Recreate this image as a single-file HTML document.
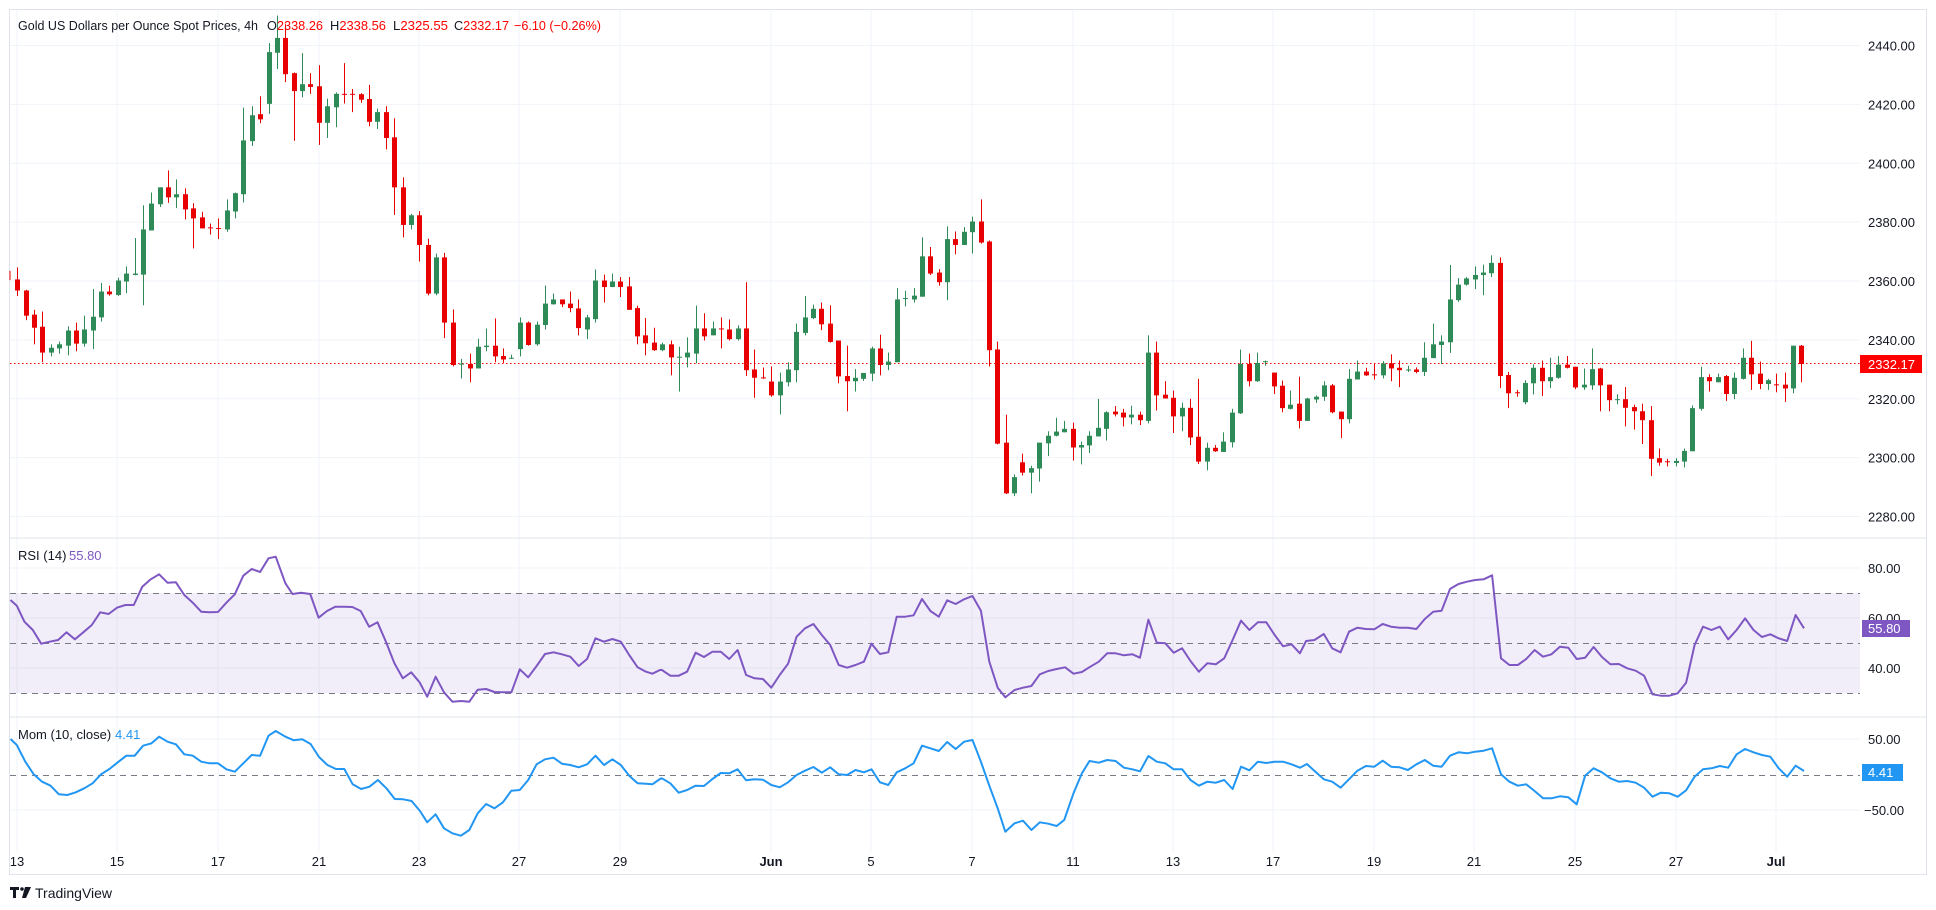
<!DOCTYPE html>
<html><head><meta charset="utf-8">
<style>
html,body{margin:0;padding:0;background:#fff;}
body{width:1936px;height:910px;overflow:hidden;font-family:"Liberation Sans",sans-serif;}
svg{position:absolute;left:0;top:0;}
</style></head>
<body>
<svg id="s" width="1936" height="910" viewBox="0 0 1936 910" xmlns="http://www.w3.org/2000/svg" font-family="Liberation Sans, sans-serif">
<rect x="9.5" y="9.5" width="1917" height="865" fill="#fff" stroke="#e0e3eb"/>
<g id="grid"></g>
<rect x="10" y="593" width="1850" height="100" fill="#7e57c2" fill-opacity="0.1"/>
<line x1="10" y1="538" x2="1927" y2="538" stroke="#e0e3eb"/>
<line x1="10" y1="717" x2="1927" y2="717" stroke="#e0e3eb"/>
<g stroke="#787b86" stroke-dasharray="6,5" stroke-width="1">
<line x1="10" y1="593.5" x2="1860" y2="593.5"/>
<line x1="10" y1="643.5" x2="1860" y2="643.5"/>
<line x1="10" y1="693.5" x2="1860" y2="693.5"/>
<line x1="10" y1="775.5" x2="1860" y2="775.5"/>
</g>
<line x1="10" y1="363.5" x2="1860" y2="363.5" stroke="#f00" stroke-dasharray="1.5,2.5"/>
<g id="candles"></g>
<polyline id="rsi" fill="none" stroke="#7e57c2" stroke-width="2" stroke-linejoin="round"/>
<polyline id="mom" fill="none" stroke="#2196f3" stroke-width="2" stroke-linejoin="round"/>
<g font-size="13" fill="#131722">
<text x="18" y="30" textLength="240" lengthAdjust="spacingAndGlyphs">Gold US Dollars per Ounce Spot Prices, 4h</text>
<text x="267" y="30" textLength="56" lengthAdjust="spacingAndGlyphs">O<tspan fill="#f00">2338.26</tspan></text>
<text x="330" y="30" textLength="56" lengthAdjust="spacingAndGlyphs">H<tspan fill="#f00">2338.56</tspan></text>
<text x="393" y="30" textLength="55" lengthAdjust="spacingAndGlyphs">L<tspan fill="#f00">2325.55</tspan></text>
<text x="454" y="30" textLength="55" lengthAdjust="spacingAndGlyphs">C<tspan fill="#f00">2332.17</tspan></text>
<text x="514" y="30" fill="#f00" textLength="87" lengthAdjust="spacingAndGlyphs">−6.10 (−0.26%)</text>
<text x="18" y="560">RSI (14)</text>
<text x="69" y="560" fill="#7e57c2">55.80</text>
<text x="18" y="739">Mom (10, close)</text>
<text x="115" y="739" fill="#2196f3">4.41</text>
</g>
<g id="axis" font-size="13" fill="#131722"></g>
<rect x="1860" y="355" width="62" height="18" fill="#f00"/>
<text x="1868" y="369" font-size="13" fill="#fff">2332.17</text>
<rect x="1862" y="620" width="48" height="17" fill="#7e57c2"/>
<text x="1868" y="633" font-size="13" fill="#fff">55.80</text>
<rect x="1862" y="764" width="41" height="17" fill="#2196f3"/>
<text x="1868" y="777" font-size="13" fill="#fff">4.41</text>
<g fill="#131722">
<path d="M10 887h9v3h-3v8h-3v-8h-3z"/>
<circle cx="22" cy="889" r="1.8"/>
<path d="M25 887h6l-5 11h-4z"/>
</g>
<text x="35" y="898" font-size="14" fill="#131722">TradingView</text>
</svg>
<script>
var NS="http://www.w3.org/2000/svg";
function el(p,t,a){var e=document.createElementNS(NS,t);for(var k in a)e.setAttribute(k,a[k]);p.appendChild(e);return e;}
var grid=document.getElementById('grid'),axis=document.getElementById('axis');
for(var p=2280;p<=2440;p+=20){var y=45.5+(2440-p)*2.944;el(grid,'line',{x1:10,x2:1860,y1:y,y2:y,stroke:'#f0f3fa'});
 var t=el(axis,'text',{x:1868,y:y+5});t.textContent=p.toFixed(2);}
[[568,'80.00'],[618,'60.00'],[668,'40.00']].forEach(function(a){el(grid,'line',{x1:10,x2:1860,y1:a[0],y2:a[0],stroke:'#f0f3fa'});var t=el(axis,'text',{x:1868,y:a[0]+5});t.textContent=a[1];});
[[739,'50.00',1868],[810,'−50.00',1864]].forEach(function(a){el(grid,'line',{x1:10,x2:1860,y1:a[0],y2:a[0],stroke:'#f0f3fa'});var t=el(axis,'text',{x:a[2],y:a[0]+5});t.textContent=a[1];});
var labs=[[17,'13'],[117,'15'],[218,'17'],[319,'21'],[419,'23'],[519,'27'],[620,'29'],[771,'Jun'],[871,'5'],[972,'7'],[1073,'11'],[1173,'13'],[1273,'17'],[1374,'19'],[1474,'21'],[1575,'25'],[1676,'27'],[1776,'Jul']];
labs.forEach(function(l){el(grid,'line',{x1:l[0],x2:l[0],y1:10,y2:852,stroke:'#f0f3fa'});var t=el(axis,'text',{x:l[0],y:866,'text-anchor':'middle'});if(l[1]=='Jun'||l[1]=='Jul')t.setAttribute('font-weight','bold');t.textContent=l[1];});
var D="r810 842 775 858|r842 915 840 928|r912 950 898 998|r947 1022 903 1050|g1008 1022 998 1033|g998 1010 990 1025|g958 1002 946 1030|r958 996 935 1018|g955 996 915 1005|g918 958 838 1012|g845 920 820 932|r845 853 828 857|g813 855 805 858|g793 816 772 850|g793 797 690 798|g665 796 595 885|g590 668 558 668|g543 592 543 600|r543 572 494 588|g563 572 520 603|r563 607 546 636|r604 633 589 720|r630 662 614 662|r659 661 648 680|r661 663 633 693|g610 665 578 672|g560 613 558 633|g407 563 312 587|g334 409 308 423|r331 346 279 357|g151 301 125 330|g110 153 45 200|r110 215 70 238|r212 264 210 408|g244 264 154 282|r244 252 212 272|r250 356 189 420|g308 356 286 400|g272 311 268 369|r272 274 183 300|r272 274 258 325|r273 289 270 298|r287 353 246 366|g325 353 315 374|r325 400 308 433|r398 543 343 623|r543 652 514 688|g624 652 620 665|r624 710 612 758|r710 851 692 856|g746 851 735 856|r746 935 733 980|r935 1058 897 1062|g1054 1056 1040 1097|r1055 1068 1025 1108|g1005 1068 982 1068|g1002 1006 952 1018|r1002 1033 923 1050|r1032 1042 1010 1052|g1037 1039 1028 1040|g935 1012 920 1033|r935 1000 932 1002|g941 998 932 1002|g880 942 828 955|g868 882 851 883|r868 882 868 890|r880 893 845 905|r894 951 868 972|g920 955 913 983|g813 925 781 935|r813 832 796 877|g816 832 793 832|r816 832 803 861|r830 898 803 898|r893 975 886 998|r972 995 922 1030|r993 1015 950 1017|g998 1015 993 1018|r998 1036 987 1088|g1034 1036 1005 1135|g1022 1036 978 1065|g952 1025 886 1053|r952 975 908 987|g952 972 932 972|r952 954 920 1010|r955 983 926 987|g952 983 943 987|r952 1073 818 1090|r1071 1095 1013 1153|r1094 1096 1065 1098|r1106 1146 1062 1150|g1106 1146 1080 1201|g1071 1108 1050 1120|g962 1073 938 1108|g920 965 858 972|g895 922 883 925|r895 940 877 957|r938 991 885 993|r987 1091 987 1111|r1090 1105 1002 1192|g1095 1105 1070 1135|g1081 1098 1081 1104|g1010 1083 1005 1105|r1010 1058 970 1088|g1048 1058 1022 1073|g868 1050 835 1050|g864 866 843 888|g857 868 835 877|g743 860 688 860|r743 793 716 797|r790 818 780 828|g693 818 656 870|r693 710 671 737|g672 710 658 710|g642 673 628 735|r642 703 578 706|r700 1015 697 1062|r1013 1286 990 1288|r1283 1430 1202 1432|g1383 1430 1375 1438|r1340 1370 1315 1378|g1357 1370 1350 1430|g1283 1358 1283 1396|g1263 1285 1250 1322|g1251 1263 1211 1265|g1243 1253 1220 1253|r1243 1297 1225 1335|g1290 1297 1280 1346|g1263 1291 1250 1313|g1240 1265 1156 1265|g1195 1243 1192 1277|r1193 1201 1177 1207|r1196 1210 1185 1236|g1202 1210 1176 1230|r1202 1218 1193 1232|g1022 1220 972 1227|r1022 1146 990 1190|r1144 1155 1105 1155|r1153 1207 1132 1255|g1182 1207 1167 1250|r1182 1268 1156 1290|r1266 1338 1098 1345|g1298 1338 1283 1363|r1298 1308 1290 1310|g1280 1310 1253 1310|g1196 1282 1185 1297|g1055 1198 1013 1200|r1055 1105 1025 1120|g1052 1105 1022 1107|g1047 1049 1045 1060|r1080 1120 1080 1142|r1118 1183 1103 1195|g1173 1185 1132 1187|r1170 1220 1092 1242|g1155 1220 1153 1220|g1150 1158 1146 1168|g1117 1150 1105 1162|r1117 1195 1113 1198|r1193 1215 1193 1270|g1098 1215 1070 1227|g1077 1100 1045 1100|r1077 1088 1066 1090|r1085 1087 1055 1100|g1053 1088 1047 1097|r1053 1068 1027 1105|r1066 1073 1045 1122|g1071 1073 1060 1078|r1071 1078 1065 1082|g1037 1078 992 1090|g998 1038 938 1038|g990 1000 972 1055|g868 992 768 1023|g825 870 806 875|g807 825 803 828|g797 810 772 838|g790 797 767 856|g762 792 740 803|r762 1090 746 1125|r1087 1140 1078 1183|r1137 1139 1130 1150|g1110 1166 1102 1172|g1066 1111 1056 1143|r1066 1105 1045 1148|g1093 1105 1037 1125|g1057 1095 1032 1098|r1057 1066 1032 1068|r1063 1123 1063 1128|g1115 1123 1068 1130|g1070 1117 1010 1130|r1068 1117 1066 1192|r1115 1160 1115 1192|g1157 1159 1143 1172|r1157 1182 1122 1236|r1180 1192 1173 1245|r1192 1218 1170 1287|r1218 1330 1177 1380|r1328 1341 1300 1350|r1337 1339 1330 1352|g1336 1342 1328 1352|g1307 1338 1300 1355|g1183 1308 1175 1308|g1093 1185 1063 1190|r1093 1105 1085 1135|g1093 1108 1083 1108|r1090 1142 1087 1162|g1095 1142 1080 1157|g1037 1098 1010 1100|r1037 1085 988 1130|r1083 1113 1048 1128|g1102 1113 1098 1130|r1114 1116 1083 1137|r1115 1126 1080 1165|g1002 1126 1002 1140|r1002 1055 1000 1108";
var cg=document.getElementById('candles');var K=0.345;
el(cg,'line',{x1:10,x2:10,y1:785*K,y2:812*K,stroke:'#e80000'});
D.split('|').forEach(function(s,i){var c=s[0]=='g'?'#2e8b57':'#e80000';var v=s.slice(1).split(' ').map(Number);var x=Math.round(17.3+8.376*i);
 el(cg,'rect',{x:x,y:v[2]*K,width:1,height:Math.max(1,(v[3]-v[2])*K),fill:c});
 el(cg,'rect',{x:x-2,y:v[0]*K,width:5,height:Math.max(1,(v[1]-v[0])*K),fill:c});});
function pts(arr){var out=[],mx=-1;arr.forEach(function(seg){var x0=seg[0];seg[1].forEach(function(p){var x=x0+p[0]/2.376,y=535+p[1]/3;if(x>mx+0.5){out.push(x.toFixed(1)+','+y.toFixed(1));mx=x;}});});return out.join(' ');}
var R7=[[25,195],[40,212],[58,260],[78,285],[98,326],[118,320],[138,315],[158,292],[178,313],[198,292],[218,270],[238,232],[258,237],[278,218],[298,210],[318,210],[338,155],[358,133],[378,118],[398,143],[418,142],[438,180],[458,203],[478,230],[498,232],[518,231],[538,203],[558,178],[578,122],[598,102],[618,111],[638,70],[655,65],[678,145],[695,177],[715,173],[737,177],[757,248],[777,228],[797,215],[817,215],[837,216],[857,228],[877,275],[897,262],[917,320],[937,385],[957,430],[977,412],[997,442],[1015,485],[1035,425],[1055,472],[1075,500],[1095,498],[1115,500],[1135,464],[1155,462],[1175,471],[1195,472],[1215,472],[1235,403],[1255,427],[1275,393],[1295,357],[1315,352],[1335,358],[1355,365],[1375,393],[1395,372],[1415,310],[1435,320],[1455,312],[1475,320],[1495,360],[1515,397],[1535,410],[1550,416],[1568,405]];
var R8=[[0,400],[30,415],[52,405],[72,422],[92,422],[112,410],[132,353],[152,366],[172,350],[192,350],[212,372],[232,345],[252,420],[272,430],[292,432],[312,458],[332,420],[352,386],[372,305],[392,280],[412,267],[432,300],[452,330],[472,390],[492,398],[512,390],[532,380],[550,326],[570,357],[590,352],[610,245],[630,245],[650,241],[670,192],[690,228],[710,245],[730,196],[750,207],[770,193],[790,183],[810,227],[830,380],[850,458],[868,487],[890,465],[910,458],[930,453],[950,418],[970,408],[990,402],[1010,397],[1030,416],[1050,411],[1070,395],[1090,380],[1110,355],[1130,355],[1150,361],[1170,358],[1188,368],[1208,254],[1228,323],[1248,325],[1268,353],[1288,340],[1308,378],[1328,410],[1348,385],[1368,388],[1388,370],[1408,315],[1428,257],[1448,285],[1468,262],[1488,262],[1508,300],[1528,334],[1548,328],[1568,355]];
var R9=[[0,333],[20,330],[40,353],[62,318],[82,315],[104,297],[124,340],[144,352],[164,290],[184,278],[204,282],[224,283],[244,267],[264,275],[284,278],[304,278],[324,282],[344,252],[364,230],[384,227],[404,162],[424,147],[444,140],[464,135],[484,133],[504,121],[525,370],[545,390],[565,390],[585,372],[605,345],[625,365],[645,358],[665,335],[685,338],[705,372],[725,368],[745,336],[765,366],[785,388],[805,387],[825,400],[845,407],[865,422],[885,478],[905,482],[925,482],[945,475],[965,443],[985,330],[1005,275],[1025,285],[1045,275],[1065,313],[1085,285],[1105,250],[1125,285],[1145,306],[1165,298],[1185,310],[1205,318],[1225,240],[1245,280]];
var M7=[[25,612],[40,630],[60,680],[80,718],[100,740],[120,752],[140,778],[160,780],[180,772],[200,760],[220,745],[240,718],[260,702],[280,682],[300,662],[320,662],[340,632],[360,625],[378,605],[398,620],[418,628],[438,658],[458,662],[478,680],[498,685],[518,685],[538,703],[558,710],[578,685],[598,660],[618,662],[638,602],[655,588],[678,605],[698,616],[718,613],[738,627],[758,666],[778,690],[798,702],[818,702],[838,748],[858,762],[878,755],[898,735],[918,760],[938,792],[958,793],[978,798],[998,828],[1015,862],[1035,838],[1055,880],[1075,895],[1095,902],[1115,885],[1135,835],[1155,807],[1175,820],[1195,802],[1215,767],[1235,765],[1255,735],[1275,688],[1295,673],[1315,668],[1335,686],[1355,690],[1375,697],[1395,688],[1415,662],[1435,690],[1455,673],[1475,690],[1495,722],[1515,745],[1535,746],[1550,748],[1568,732]];
var M8=[[0,745],[30,748],[52,730],[72,745],[92,773],[112,765],[132,752],[152,753],[172,732],[192,714],[212,715],[232,703],[252,736],[272,733],[292,734],[312,750],[332,757],[352,742],[372,720],[392,707],[412,696],[432,713],[452,697],[472,718],[492,720],[512,705],[532,712],[550,703],[570,742],[590,750],[610,712],[630,700],[650,685],[670,632],[690,640],[710,648],[730,621],[750,642],[770,620],[790,615],[810,680],[830,752],[850,820],[868,890],[890,865],[910,857],[930,885],[950,862],[970,866],[990,873],[1008,855],[1030,775],[1050,715],[1068,678],[1090,683],[1110,675],[1130,678],[1150,698],[1170,703],[1188,709],[1208,663],[1228,680],[1248,685],[1268,703],[1288,703],[1308,735],[1328,752],[1348,740],[1368,743],[1388,735],[1408,762],[1428,695],[1448,706],[1468,680],[1488,684],[1508,680],[1528,680],[1548,688],[1568,698]];
var M9=[[0,678],[20,685],[44,695],[64,687],[84,710],[104,733],[124,740],[144,758],[164,733],[184,707],[204,693],[224,695],[244,677],[264,695],[284,697],[304,705],[324,688],[344,675],[364,692],[384,695],[404,662],[424,652],[444,655],[464,650],[484,647],[504,640],[525,718],[545,740],[565,752],[585,748],[605,768],[625,790],[645,790],[665,784],[685,787],[705,808],[725,722],[745,700],[765,712],[785,730],[805,740],[825,738],[845,743],[865,758],[885,785],[905,773],[925,775],[945,785],[965,766],[985,725],[1005,703],[1025,700],[1045,693],[1065,698],[1085,658],[1105,642],[1125,652],[1145,660],[1165,665],[1185,700],[1205,725],[1225,692],[1245,708]];
document.getElementById('rsi').setAttribute('points',pts([[0,R7],[640,R8],[1280,R9]]));
document.getElementById('mom').setAttribute('points',pts([[0,M7],[640,M8],[1280,M9]]));
</script>
</body></html>
